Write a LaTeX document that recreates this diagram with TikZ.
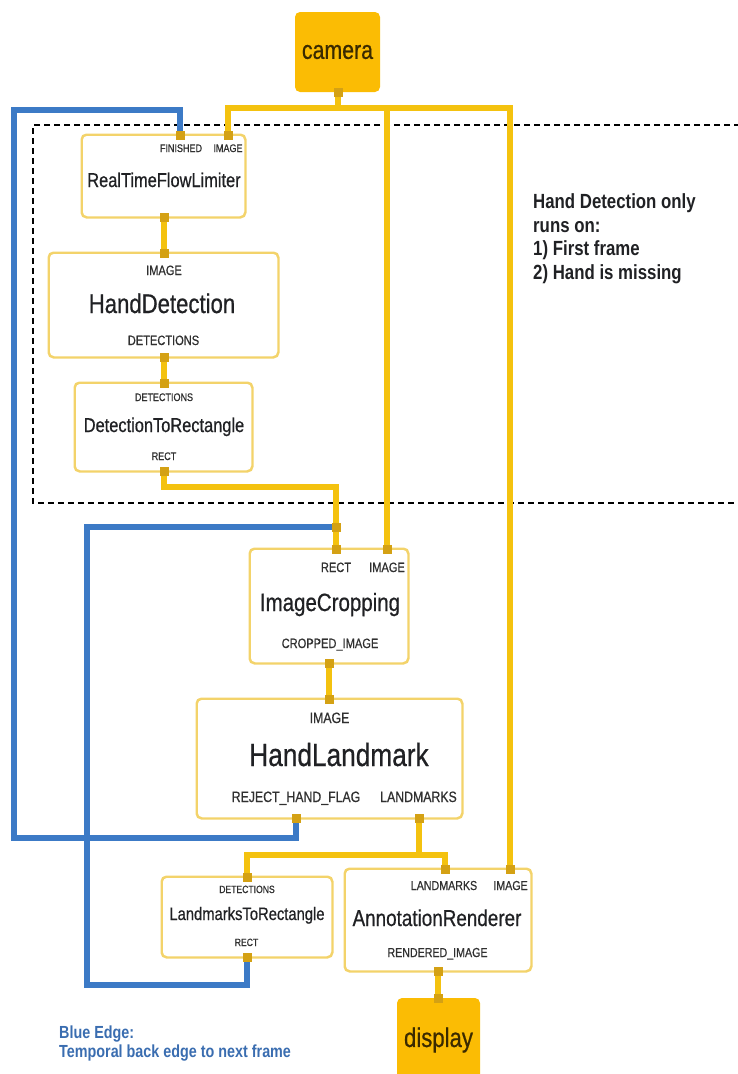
\documentclass[tikz,border=0pt]{standalone}
\usepackage{fontspec}
\setmainfont{Liberation Sans}[FakeStretch=0.82]
\newfontfamily\medf{Liberation Sans}[FakeStretch=0.82,FakeBold=0.6]
\usetikzlibrary{calc}
\definecolor{yel}{HTML}{F4C20F}
\definecolor{yelfill}{HTML}{FBBC04}
\definecolor{yelbord}{HTML}{F3D36A}
\definecolor{portc}{HTML}{D4A114}
\definecolor{blu}{HTML}{3C7AC6}
\definecolor{txt}{HTML}{202124}
\definecolor{lbl}{HTML}{303030}
\definecolor{notec}{HTML}{3A6DB0}
\definecolor{camtxt}{HTML}{3A2A00}
\begin{document}
\begin{tikzpicture}[x=1pt,y=-1pt,
  box/.style={draw=yelbord, line width=1.5pt, fill=white, rounded corners=5pt, inner sep=0pt},
  src/.style={fill=yelfill, rounded corners=5pt, inner sep=0pt, text=camtxt},
  yl/.style={draw=yel, line width=5.5pt},
  bl/.style={draw=blu, line width=5.5pt},
  port/.style={fill=portc, minimum size=9pt, inner sep=0pt},
  lab/.style={anchor=base, inner sep=0pt, text=lbl},
  nm/.style={anchor=base, inner sep=0pt, text=txt},
  note/.style={anchor=base west, inner sep=0pt, text=txt, font=\fontsize{20.5}{24}\selectfont\bfseries},
  bnote/.style={anchor=base west, inner sep=0pt, text=notec, font=\fontsize{17.5}{21}\selectfont\bfseries}
]
\useasboundingbox (0,0) rectangle (738,1074);
\clip (0,0) rectangle (738,1074);

% dashed group
\draw[line width=1.4pt, dash pattern=on 6pt off 4pt] (760,125) -- (33,125) -- (33,503) -- (760,503);

% boxes (nodes)
\node[src, minimum width=85pt, minimum height=80pt, font=\medf\fontsize{26}{30}\selectfont] (camera) at (337.5,52) {camera};
\node[box, minimum width=163pt, minimum height=82pt] (rtfl) at (163.5,176) {};
\node[box, minimum width=229pt, minimum height=104pt] (hd) at (163.5,305) {};
\node[box, minimum width=177pt, minimum height=88pt] (dtr) at (163.5,427) {};
\node[box, minimum width=158pt, minimum height=114pt] (ic) at (329,606) {};
\node[box, minimum width=265pt, minimum height=119pt] (hl) at (329.5,758.5) {};
\node[box, minimum width=170pt, minimum height=80pt] (ltr) at (247,917) {};
\node[box, minimum width=186pt, minimum height=102pt] (ar) at (438,920) {};
\node[src, minimum width=83pt, minimum height=84pt, font=\medf\fontsize{27}{31}\selectfont] (display) at (438.5,1040) {display};

% port coordinates
\coordinate (p-rtfl-fin) at (180,135);
\coordinate (p-rtfl-img) at (228,135);
\coordinate (p-rtfl-out) at (164,217);
\coordinate (p-hd-in) at (164,253);
\coordinate (p-hd-out) at (164,357);
\coordinate (p-dtr-in) at (164,383);
\coordinate (p-dtr-out) at (164,471);
\coordinate (p-ic-rect) at (336,549);
\coordinate (p-ic-img) at (387,549);
\coordinate (p-ic-out) at (329,663);
\coordinate (p-hl-in) at (329,699);
\coordinate (p-hl-rej) at (296,818);
\coordinate (p-hl-lm) at (419,818);
\coordinate (p-ltr-in) at (247,877);
\coordinate (p-ltr-out) at (247,957);
\coordinate (p-ar-lm) at (445,869);
\coordinate (p-ar-img) at (510,869);
\coordinate (p-ar-out) at (438,971);
\coordinate (p-disp-in) at (438,998);
\coordinate (p-cam-out) at (338,92);
\coordinate (jrect) at (336,527);
% bends
\coordinate (bus) at (0,108);
\coordinate (dbus) at (0,487);
\coordinate (lmbus) at (0,855);
\coordinate (b1) at (296,838);
\coordinate (b2) at (14,838);
\coordinate (b3) at (14,110);
\coordinate (b4) at (180,110);
\coordinate (c1) at (247,985);
\coordinate (c2) at (87,985);
\coordinate (c3) at (87,527);

% yellow edges
\draw[yl] (p-cam-out) -- (p-cam-out |- bus);
\draw[yl] (p-rtfl-img) -- (p-rtfl-img |- bus) -- (p-ar-img |- bus) -- (p-ar-img);
\draw[yl] (p-ic-img |- bus) -- (p-ic-img);
\draw[yl] (p-rtfl-out) -- (p-hd-in);
\draw[yl] (p-hd-out) -- (p-dtr-in);
\draw[yl] (p-dtr-out) -- (p-dtr-out |- dbus) -- (p-ic-rect |- dbus) -- (p-ic-rect);
\draw[yl] (p-ic-out) -- (p-hl-in);
\draw[yl] (p-hl-lm) -- (p-hl-lm |- lmbus);
\draw[yl] (p-ltr-in) -- (p-ltr-in |- lmbus) -- (p-ar-lm |- lmbus) -- (p-ar-lm);
\draw[yl] (p-ar-out) -- (p-disp-in);

% blue edges
\draw[bl] (p-hl-rej) -- (b1) -- (b2) -- (b3) -- (b4) -- (p-rtfl-fin);
\draw[bl] (p-ltr-out) -- (c1) -- (c2) -- (c3) -- (jrect);

% redraw box borders on top of line ends
\foreach \n in {rtfl,hd,dtr,ic,hl,ltr,ar}{\draw[draw=yelbord, line width=1.5pt, rounded corners=5pt] (\n.north west) rectangle (\n.south east);}

% port squares
\foreach \p in {p-cam-out,p-rtfl-fin,p-rtfl-img,p-rtfl-out,p-hd-in,p-hd-out,p-dtr-in,p-dtr-out,p-ic-rect,p-ic-img,p-ic-out,p-hl-in,p-hl-rej,p-hl-lm,p-ltr-in,p-ltr-out,p-ar-lm,p-ar-img,p-ar-out,p-disp-in,jrect}{\node[port] at (\p) {};}

% texts: RealTimeFlowLimiter
\node[lab, font=\medf\fontsize{11}{13}\selectfont] (rtfl-fin) at (181,152) {FINISHED};
\node[lab, font=\medf\fontsize{11}{13}\selectfont] (rtfl-img) at (228,152) {IMAGE};
\node[nm, font=\medf\fontsize{20}{24}\selectfont] (rtfl-name) at (164,187) {RealTimeFlowLimiter};
% HandDetection
\node[lab, font=\medf\fontsize{13.5}{16}\selectfont] (hd-img) at (164,275) {IMAGE};
\node[nm, font=\medf\fontsize{27}{32}\selectfont] (hd-name) at (162,313) {HandDetection};
\node[lab, font=\medf\fontsize{13.5}{16}\selectfont] (hd-det) at (163.5,345) {DETECTIONS};
% DetectionToRectangle
\node[lab, font=\medf\fontsize{11}{13}\selectfont] (dtr-det) at (164,401) {DETECTIONS};
\node[nm, font=\medf\fontsize{20}{24}\selectfont] (dtr-name) at (164,432) {DetectionToRectangle};
\node[lab, font=\medf\fontsize{11}{13}\selectfont] (dtr-rect) at (164,460) {RECT};
% ImageCropping
\node[lab, font=\medf\fontsize{13.5}{16}\selectfont] (ic-rect) at (336,572) {RECT};
\node[lab, font=\medf\fontsize{13.5}{16}\selectfont] (ic-img) at (387,572) {IMAGE};
\node[nm, font=\medf\fontsize{25}{30}\selectfont] (ic-name) at (330,611) {ImageCropping};
\node[lab, font=\medf\fontsize{13.5}{16}\selectfont] (ic-crop) at (330,648) {CROPPED\_IMAGE};
% HandLandmark
\node[lab, font=\medf\fontsize{15}{18}\selectfont] (hl-img) at (329.5,723) {IMAGE};
\node[nm, font=\medf\fontsize{32}{38}\selectfont] (hl-name) at (339,766) {HandLandmark};
\node[lab, font=\medf\fontsize{15}{18}\selectfont] (hl-rej) at (296,802) {REJECT\_HAND\_FLAG};
\node[lab, font=\medf\fontsize{15}{18}\selectfont] (hl-lm) at (418.5,802) {LANDMARKS};
% LandmarksToRectangle
\node[lab, font=\medf\fontsize{10.5}{12}\selectfont] (ltr-det) at (247,893) {DETECTIONS};
\node[nm, font=\medf\fontsize{18}{22}\selectfont] (ltr-name) at (247,920) {LandmarksToRectangle};
\node[lab, font=\medf\fontsize{10.5}{12}\selectfont] (ltr-rect) at (246.5,946) {RECT};
% AnnotationRenderer
\node[lab, font=\medf\fontsize{13}{16}\selectfont] (ar-lm) at (444,890) {LANDMARKS};
\node[lab, font=\medf\fontsize{13}{16}\selectfont] (ar-img) at (510.5,890) {IMAGE};
\node[nm, font=\medf\fontsize{23}{28}\selectfont] (ar-name) at (437,926) {AnnotationRenderer};
\node[lab, font=\medf\fontsize{13}{16}\selectfont] (ar-ren) at (437.5,957) {RENDERED\_IMAGE};

% notes
\node[note] (n1) at (533,208) {Hand Detection only};
\node[note] (n2) at (533,232) {runs on:};
\node[note] (n3) at (533,255) {1) First frame};
\node[note] (n4) at (533,279) {2) Hand is missing};
\node[bnote] (e1) at (59,1038) {Blue Edge:};
\node[bnote] (e2) at (59,1057) {Temporal back edge to next frame};
\end{tikzpicture}
\end{document}
